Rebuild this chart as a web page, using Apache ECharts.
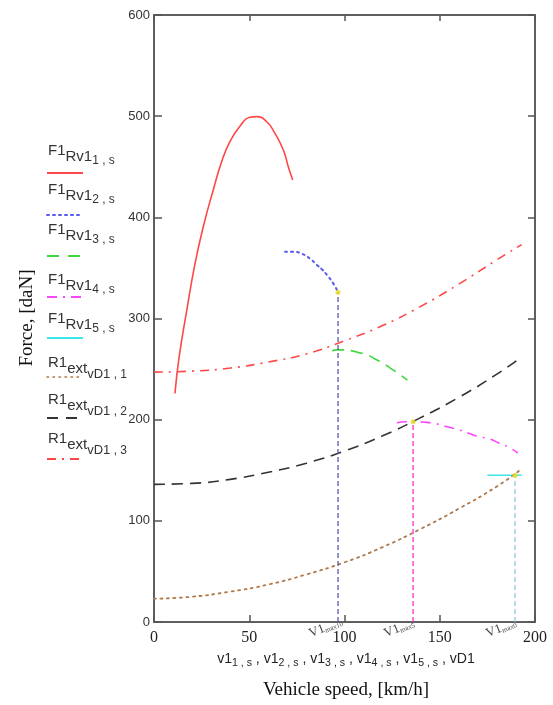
<!DOCTYPE html>
<html><head><meta charset="utf-8">
<script src="https://cdn.jsdelivr.net/npm/echarts@6/dist/echarts.min.js"></script>
<style>html,body{margin:0;padding:0;background:#fff}#c{width:553px;height:705px}</style>
</head><body><div id="c"></div>
<script>
// ---- data ----
const xTicks = [0, 50, 100, 150, 200];
const yTicks = [0, 100, 200, 300, 400, 500, 600];

const v1_1 = [11, 13.2, 17.2, 21.5, 25.9, 31.1, 35.5, 39.9, 45.1, 50.4, 53.9, 59.2, 63.5, 68, 70.5, 72.8];
const F1_1 = [226, 262, 308, 354, 391, 427, 455, 475, 490, 499, 499.5, 494.5, 483, 466, 450, 437];

const v1_2 = [68.8, 73, 77.7, 82, 85.5, 88.5, 90.8, 94, 96.6];
const F1_2 = [366, 366, 364, 359, 353, 348, 343, 335, 326];

const v1_3 = [93.5, 96, 99, 104, 108, 112, 116, 120, 124, 128, 133];
const F1_3 = [268, 269, 269, 268, 266, 264, 260, 256, 251, 246, 239];

const v1_4 = [127.5, 132, 136, 142, 148, 154, 160, 166, 171, 176, 181, 186, 191];
const F1_4 = [197, 198, 198, 197.5, 196, 193, 190, 186, 183, 181, 177, 173, 167];

const v1_5 = [175, 193];
const F1_5 = [145, 145];

const vD1_a = [0, 20, 40, 60, 80, 100, 120, 140, 160, 180, 192];
const R1_1 = [23, 25, 30, 37, 47, 59, 74, 92, 112, 134, 150];

const vD1_b = [0, 20, 40, 60, 80, 100, 120, 140, 160, 180, 193];
const R1_2 = [136, 137, 141, 148, 157, 169, 184, 202, 222, 245, 262];
const R1_3 = [247, 248, 251, 257, 265, 278, 293, 312, 334, 358, 373];

const vMax = [96.6, 136, 189.5];
const fMax = [326, 198, 145];
const vMaxSub = ['max10', 'max5', 'max0'];

// ---- chart ----
const SANS = '"Liberation Sans", Arial, sans-serif';
const SERIF = '"Liberation Serif", "Times New Roman", serif';
const mk = (v, f) => v.map((x, i) => [x, f[i]]);
const vertColors = ['#5a5a9e', '#ff2fd0', '#8ccbd8'];

const chart = echarts.init(document.getElementById('c'), null, {renderer: 'canvas'});

const series = [
  {type: 'line', data: mk(v1_1, F1_1), smooth: true, showSymbol: false, lineStyle: {color: '#ff4747', width: 1.6}},
  {type: 'line', data: mk(v1_2, F1_2), smooth: true, showSymbol: false, lineStyle: {color: '#5a5af0', width: 2, type: [2, 4], cap: 'round'}},
  {type: 'line', data: mk(v1_3, F1_3), smooth: true, showSymbol: false, lineStyle: {color: '#3ed83e', width: 1.6, type: [12, 7]}},
  {type: 'line', data: mk(v1_4, F1_4), smooth: true, showSymbol: false, lineStyle: {color: '#ff44ff', width: 1.6, type: [10, 6, 2, 6]}},
  {type: 'line', data: mk(v1_5, F1_5), smooth: false, showSymbol: false, lineStyle: {color: '#3fe6e6', width: 1.6}},
  {type: 'line', data: mk(vD1_a, R1_1), smooth: true, showSymbol: false, lineStyle: {color: '#b07848', width: 1.8, type: [2, 4.5], cap: 'round'}},
  {type: 'line', data: mk(vD1_b, R1_2), smooth: true, showSymbol: false, lineStyle: {color: '#333333', width: 1.6, type: [11, 7]}},
  {type: 'line', data: mk(vD1_b, R1_3), smooth: true, showSymbol: false, lineStyle: {color: '#ff4747', width: 1.6, type: [9, 6, 2, 6]}}
];
vMax.forEach((v, i) => {
  series.push({type: 'line', data: [[v, 0], [v, fMax[i]]], showSymbol: false,
    lineStyle: {color: vertColors[i], width: 1.3, type: [5, 3]}});
});
series.push({type: 'scatter', data: mk(vMax, fMax), symbolSize: 5, itemStyle: {color: '#e6dc1e'}, z: 5});

const axisLineStyle = {color: '#555', width: 1.5};
chart.setOption({
  animation: false,
  backgroundColor: '#fff',
  grid: {left: 154, right: 18, top: 15, bottom: 83, show: true, borderColor: '#555', borderWidth: 1.5},
  xAxis: [
    {type: 'value', min: xTicks[0], max: xTicks[xTicks.length - 1], interval: 50, position: 'bottom',
     axisLine: {show: true, onZero: false, lineStyle: axisLineStyle}, axisTick: {show: true, inside: true, length: 7, lineStyle: axisLineStyle},
     splitLine: {show: false},
     axisLabel: {margin: 8, fontFamily: SERIF, fontSize: 16, color: '#222'}},
    {type: 'value', min: 0, max: 200, interval: 50, position: 'top',
     axisLine: {show: true, onZero: false, lineStyle: axisLineStyle}, axisTick: {show: true, inside: true, length: 6, lineStyle: axisLineStyle},
     splitLine: {show: false}, axisLabel: {show: false}}
  ],
  yAxis: [
    {type: 'value', min: yTicks[0], max: yTicks[yTicks.length - 1], interval: 100, position: 'left',
     axisLine: {show: true, onZero: false, lineStyle: axisLineStyle}, axisTick: {show: true, inside: true, length: 8, lineStyle: axisLineStyle},
     splitLine: {show: false},
     axisLabel: {margin: 4, fontFamily: SANS, fontSize: 13, color: '#333'}},
    {type: 'value', min: 0, max: 600, interval: 100, position: 'right',
     axisLine: {show: true, onZero: false, lineStyle: axisLineStyle}, axisTick: {show: true, inside: true, length: 7, lineStyle: axisLineStyle},
     splitLine: {show: false}, axisLabel: {show: false}}
  ],
  series: series
});

// ---- text with sub/superscripts ----
const mctx = document.createElement('canvas').getContext('2d');
function tw(t, font) { mctx.font = font; return mctx.measureText(t).width; }
function mathText(x, y, pieces, family, color) {
  const els = [];
  let cx = x;
  pieces.forEach(p => {
    const font = p.fs + 'px ' + (p.ff || family);
    els.push({type: 'text', x: cx, y: y + (p.dy || 0), silent: true,
      style: {text: p.t, font: font, fill: color || '#222', verticalAlign: 'top', align: 'left'}});
    cx += tw(p.t, font);
  });
  return {els: els, width: cx - x};
}

const graphics = [];
// legend
const legendTop = [143, 182, 222, 272, 311, 355, 392, 431];
const legendLineY = [173, 215, 256, 297, 338, 377, 418, 459];
const legendSub = ['1 , s', '2 , s', '3 , s', '4 , s', '5 , s'];
const legendStyles = [
  {color: '#ff4747', width: 1.8},
  {color: '#5a5af0', width: 2, lineDash: [2, 4], lineCap: 'round'},
  {color: '#3ed83e', width: 1.8, lineDash: [12, 9]},
  {color: '#ff44ff', width: 1.8, lineDash: [10, 6, 2, 6]},
  {color: '#3fe6e6', width: 1.8},
  {color: '#b07848', width: 1.6, lineDash: [1.5, 4.5], lineCap: 'round'},
  {color: '#333333', width: 1.8, lineDash: [11, 8]},
  {color: '#ff4747', width: 1.8, lineDash: [9, 6, 2, 6]}
];
for (let i = 0; i < 8; i++) {
  let pieces;
  if (i < 5) {
    pieces = [{t: 'F1', fs: 15}, {t: 'Rv1', fs: 15, dy: 6}, {t: legendSub[i], fs: 12, dy: 12}];
  } else {
    pieces = [{t: 'R1', fs: 15}, {t: 'ext', fs: 15, dy: 6}, {t: 'vD1', fs: 13, dy: 13}, {t: ' , ' + (i - 4), fs: 12, dy: 14}];
  }
  graphics.push(...mathText(48, legendTop[i], pieces, SANS, '#333').els);
  graphics.push({type: 'line', silent: true, shape: {x1: 47, y1: legendLineY[i], x2: 83, y2: legendLineY[i]},
    style: Object.assign({stroke: legendStyles[i].color, lineWidth: legendStyles[i].width}, legendStyles[i])});
}

// x axis variable line
(function () {
  const pcs = [];
  for (let k = 1; k <= 5; k++) {
    pcs.push({t: 'v1', fs: 16});
    pcs.push({t: k + ' , s', fs: 12, dy: 6});
    pcs.push({t: ' , ', fs: 16});
  }
  pcs.push({t: 'vD1', fs: 16});
  const probe = mathText(0, 0, pcs, SANS);
  const s = 258 / probe.width;
  const scaled = pcs.map(p => ({t: p.t, fs: p.fs * s, dy: (p.dy || 0) * s}));
  const w = mathText(0, 0, scaled, SANS).width;
  graphics.push(...mathText(346 - w / 2, 652, scaled, SANS, '#222').els);
})();

graphics.push({type: 'text', x: 346, y: 690, silent: true,
  style: {text: 'Vehicle speed, [km/h]', font: '19px ' + SERIF, fill: '#111', align: 'center', verticalAlign: 'middle'}});
graphics.push({type: 'text', x: 27, y: 318, rotation: Math.PI / 2, silent: true,
  style: {text: 'Force, [daN]', font: '19px ' + SERIF, fill: '#111', align: 'center', verticalAlign: 'middle'}});

// V1max labels below the axis
vMax.forEach((v, i) => {
  const p = chart.convertToPixel({gridIndex: 0}, [v, 0]);
  const m = mathText(0, 0, [{t: 'V1', fs: 13}, {t: vMaxSub[i], fs: 7, dy: 6}], SERIF, '#444');
  graphics.push({type: 'group', x: p[0] - 31, y: p[1] + 6, rotation: 0.38, children: m.els});
});

chart.setOption({graphic: graphics});
</script>
</body></html>
